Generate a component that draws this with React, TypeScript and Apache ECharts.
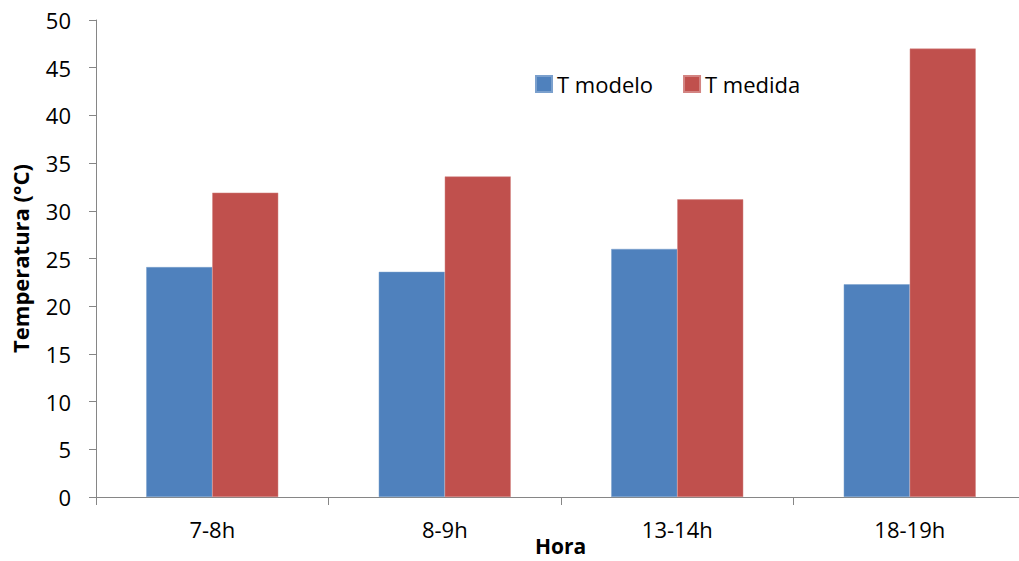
import React, { useEffect, useRef } from "react";
import * as echarts from "echarts";

const categories = ["7-8h", "8-9h", "13-14h", "18-19h"];
const tModelo = [24.1, 23.6, 26.0, 22.3];
const tMedida = [31.9, 33.6, 31.2, 47.0];
const seriesNames = ["T modelo", "T medida"];
const xAxisTitle = "Hora";
const yAxisTitle = "Temperatura (°C)";

const FONT = "'Open Sans', 'Noto Sans', sans-serif";

export default function App() {
  const ref = useRef<HTMLDivElement>(null);
  useEffect(() => {
    document.body.style.margin = "0";
    const chart = echarts.init(ref.current!, null, { renderer: "svg" });
    chart.setOption({
      animation: false,
      backgroundColor: "#ffffff",
      textStyle: { fontFamily: FONT },
      grid: {
        left: 96,
        top: 20,
        width: 930,
        height: 477,
        containLabel: false,
        outerBoundsMode: "none",
      },
      legend: {
        data: seriesNames,
        left: 535,
        top: 73,
        padding: 0,
        itemWidth: 16,
        itemHeight: 16,
        itemGap: 30,
        icon: "rect",
        textStyle: { fontSize: 22, color: "#000", fontFamily: FONT },
      },
      graphic: [
        {
          type: "text",
          left: 561 - 26,
          top: 535,
          style: {
            text: xAxisTitle,
            font: `bold 21px ${FONT}`,
            fill: "#000",
          },
        },
      ],
      xAxis: {
        type: "category",
        data: categories,
        axisLine: { lineStyle: { color: "#868686", width: 1 } },
        axisTick: { show: true, length: 8, alignWithLabel: false, lineStyle: { color: "#868686" } },
        axisLabel: { fontSize: 22, color: "#000", margin: 21, fontFamily: FONT },
        splitLine: { show: false },
      },
      yAxis: {
        type: "value",
        min: 0,
        max: 50,
        interval: 5,
        name: yAxisTitle,
        nameLocation: "middle",
        nameGap: 65,
        nameRotate: 90,
        nameTextStyle: { fontSize: 22, fontWeight: "bold", color: "#000", fontFamily: FONT },
        axisLine: { show: true, lineStyle: { color: "#868686", width: 1 } },
        axisTick: { show: true, length: 7, lineStyle: { color: "#868686" } },
        axisLabel: { fontSize: 22, color: "#000", margin: 25, fontFamily: FONT },
        splitLine: { show: false },
      },
      series: [
        {
          name: seriesNames[0],
          type: "bar",
          data: tModelo,
          barWidth: 66,
          barGap: "0%",
          itemStyle: { color: "#4F81BD", borderColor: "#7BA0CD", borderWidth: 0.5 },
        },
        {
          name: seriesNames[1],
          type: "bar",
          data: tMedida,
          barWidth: 66,
          barGap: "0%",
          itemStyle: { color: "#C0504D", borderColor: "#D38482", borderWidth: 0.5 },
        },
      ],
    });
    return () => chart.dispose();
  }, []);
  return <div ref={ref} style={{ width: 1019, height: 561 }} />;
}
